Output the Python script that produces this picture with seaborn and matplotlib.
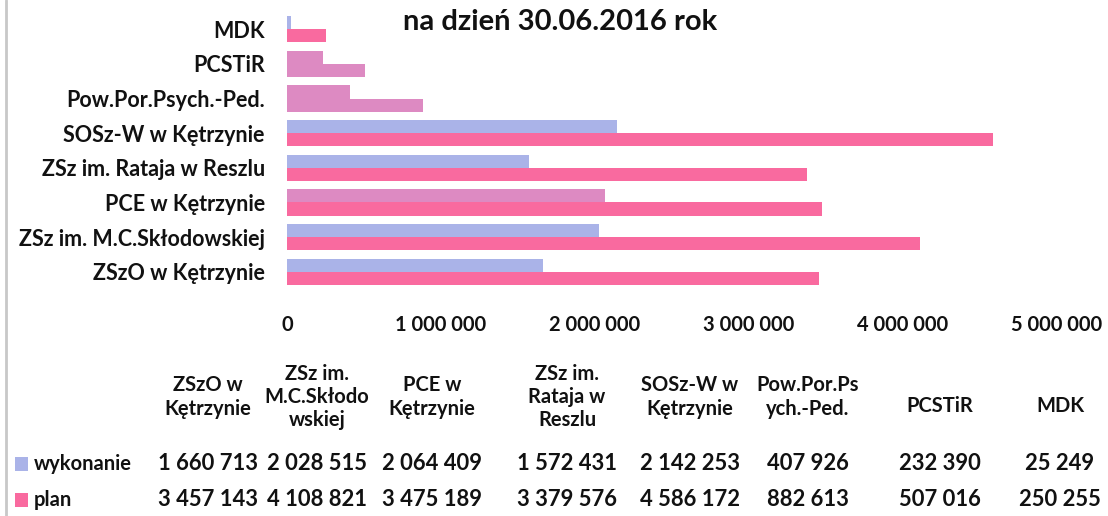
import numpy as np
import pandas as pd
import matplotlib
matplotlib.use("Agg")
import matplotlib.pyplot as plt
import seaborn as sns
from matplotlib.ticker import FuncFormatter, FixedLocator
from matplotlib.patches import Rectangle
from matplotlib.lines import Line2D

# ---- data ----
categories = ["ZSzO w Kętrzynie", "ZSz im. M.C.Skłodowskiej", "PCE w Kętrzynie",
              "ZSz im. Rataja w Reszlu", "SOSz-W w Kętrzynie", "Pow.Por.Psych.-Ped.",
              "PCSTiR", "MDK"]
table_headers = ["ZSzO w\nKętrzynie", "ZSz im.\nM.C.Skłodo\nwskiej", "PCE w\nKętrzynie",
                 "ZSz im.\nRataja w\nReszlu", "SOSz-W w\nKętrzynie", "Pow.Por.Ps\nych.-Ped.",
                 "PCSTiR", "MDK"]
wykonanie = [1660713, 2028515, 2064409, 1572431, 2142253, 407926, 232390, 25249]
plan = [3457143, 4108821, 3475189, 3379576, 4586172, 882613, 507016, 250255]
series_names = ["wykonanie", "plan"]
x_ticks = [0, 1000000, 2000000, 3000000, 4000000, 5000000]
title = "na dzień 30.06.2016 rok"

# ---- style ----
c_wyk = "#aab3e8"
c_plan = "#f96a9f"
c_orchid = "#dd8ac2"
txt = "#111111"

sns.set_theme(style="white")
plt.rcParams['font.family'] = ['Lato', 'DejaVu Sans']

W, H = 1108, 516
fig = plt.figure(figsize=(W / 100, H / 100), dpi=100)
fig.patch.set_facecolor("white")

df = pd.DataFrame({
    "kategoria": categories * 2,
    "seria": [series_names[0]] * len(categories) + [series_names[1]] * len(categories),
    "wartosc": wykonanie + plan,
})

ax = fig.add_axes([287 / W, 1 - 289 / H, (1057 - 287) / W, (289 - 12) / H])
order = categories[::-1]
sns.barplot(data=df, y="kategoria", x="wartosc", hue="seria", hue_order=series_names,
            order=order, orient="h", palette=[c_wyk, c_plan], width=0.76,
            saturation=1, errorbar=None, legend=False, linewidth=0, ax=ax)

# colour quirks of the reference rows
orchid_wyk = {"PCE w Kętrzynie", "Pow.Por.Psych.-Ped.", "PCSTiR"}
orchid_plan = {"Pow.Por.Psych.-Ped.", "PCSTiR"}
for i, cat in enumerate(order):
    if cat in orchid_wyk:
        ax.containers[0][i].set_facecolor(c_orchid)
    if cat in orchid_plan:
        ax.containers[1][i].set_facecolor(c_orchid)

ax.set_xlim(0, 5000000)
ax.xaxis.set_major_locator(FixedLocator(x_ticks))
ax.xaxis.set_major_formatter(FuncFormatter(lambda v, p: f"{int(v):,}".replace(",", " ")))
ax.set_xlabel("")
ax.set_ylabel("")
for s in ax.spines.values():
    s.set_visible(False)
ax.grid(False)
ax.tick_params(axis="x", length=0, pad=19, labelsize=14.5, colors=txt)
ax.tick_params(axis="y", length=0, pad=16, labelsize=15.5, colors=txt)
for t in ax.get_xticklabels():
    t.set_fontweight("bold")
for t in ax.get_yticklabels():
    t.set_fontweight("bold")

fig.text(560 / W, 1 - 22 / H, title, ha="center", va="center", fontsize=21,
         fontweight="bold", color=txt)

# ---- data table ----
col_x = [208, 317, 432, 567, 690, 808, 940, 1060]
for cx, hd, v1, v2 in zip(col_x, table_headers, wykonanie, plan):
    y_h = 397 if "\n" in hd else 406
    fig.text(cx / W, 1 - y_h / H, hd, ha="center", va="center", fontsize=14.5,
             fontweight="bold", linespacing=1.2, color=txt)
    fig.text(cx / W, 1 - 464 / H, f"{v1:,}".replace(",", " "), ha="center", va="center",
             fontsize=15.8, fontweight="bold", color=txt)
    fig.text(cx / W, 1 - 500 / H, f"{v2:,}".replace(",", " "), ha="center", va="center",
             fontsize=15.8, fontweight="bold", color=txt)

for name, col, yy in zip(series_names, [c_wyk, c_plan], [464, 500]):
    fig.patches.append(Rectangle((15 / W, 1 - (yy + 7) / H), 13 / W, 14 / H,
                                 transform=fig.transFigure, facecolor=col, edgecolor="none"))
    fig.text(34 / W, 1 - yy / H, name, ha="left", va="center", fontsize=14.5,
             fontweight="bold", color=txt)

# page border at left
fig.add_artist(Line2D([6 / W, 6 / W], [0, 1], transform=fig.transFigure,
                      color="#c8c8c8", linewidth=2))

fig.savefig("out.png", dpi=100, facecolor="white")
